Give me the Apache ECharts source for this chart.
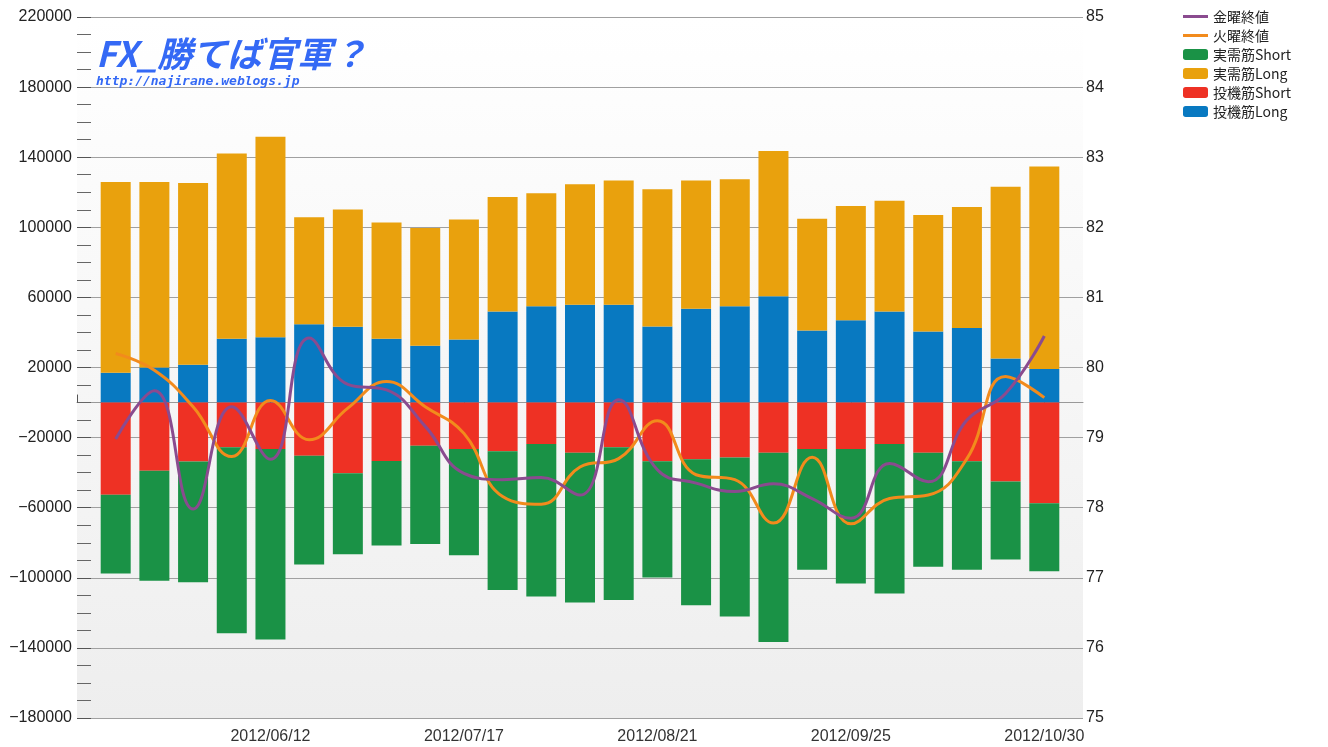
<!DOCTYPE html>
<html>
<head>
<meta charset="utf-8">
<script src="https://cdn.jsdelivr.net/npm/echarts@6/dist/echarts.min.js"></script>
<style>
html,body{margin:0;padding:0;background:#fff;}
#chart{width:1328px;height:747px;}
</style>
</head>
<body>
<div id="chart"></div>
<script>
// Weekly dates (Tuesdays)
const dates = ['2012/05/15','2012/05/22','2012/05/29','2012/06/05','2012/06/12','2012/06/19','2012/06/26','2012/07/03','2012/07/10','2012/07/17','2012/07/24','2012/07/31','2012/08/07','2012/08/14','2012/08/21','2012/08/28','2012/09/04','2012/09/11','2012/09/18','2012/09/25','2012/10/02','2012/10/09','2012/10/16','2012/10/23','2012/10/30'];
// axis padding weeks (one empty week at each end of the time axis)
const padStart = '2012/05/08';
const padEnd = '2012/11/06';
// 投機筋Long
const specLong = [17000,20000,21500,36400,37300,44700,43200,36400,32400,36000,52000,55000,55800,55800,43400,53500,55000,60700,41100,46900,52000,40600,42600,25100,19200];
// 実需筋Long
const realLong = [108900,105900,103800,105700,114300,61000,66900,66300,67200,68400,65300,64400,68800,70900,78300,73200,72400,82900,63800,65300,63200,66400,69000,98100,115500];
// 投機筋Short
const specShort = [-52600,-38900,-33700,-25500,-26500,-30300,-40400,-33300,-24600,-26500,-27800,-23600,-28600,-25500,-33500,-32400,-31400,-28700,-26500,-26500,-23600,-28700,-33500,-45000,-57500];
// 実需筋Short
const realShort = [-44900,-62800,-68800,-106100,-108700,-62100,-46100,-48200,-56100,-60700,-79100,-87100,-85500,-87200,-66300,-83200,-90700,-107900,-68900,-76700,-85300,-65000,-61900,-44500,-38700];
// 金曜終値
const friClose = [78.98,79.67,77.98,79.44,78.69,80.42,79.76,79.68,79.16,78.49,78.40,78.43,78.18,79.54,78.54,78.35,78.23,78.34,78.13,77.85,78.63,78.37,79.25,79.63,80.45];
// 火曜終値
const tueClose = [80.20,79.96,79.44,78.73,79.53,78.97,79.42,79.80,79.44,79.06,78.16,78.05,78.58,78.70,79.24,78.47,78.40,77.78,78.72,77.77,78.13,78.18,78.70,79.87,79.57];
// axis ranges
const leftAxis = {min:-180000, max:220000, interval:40000};
const rightAxis = {min:75, max:85, interval:1};
const labelEvery = 5;

const categories = [padStart].concat(dates, [padEnd]);
const pair = arr => arr.map((v,i)=>[dates[i], v]);

const FRI_COLOR = '#8a4b8f';
const TUE_COLOR = '#f28b1c';
// thin horizontal line icon inside a 25x11 box (degenerate corner points keep the box size)
const lineIcon = 'path://M0,0L0.01,0L0,0.01ZM0,4H25V7H0ZM25,11L24.99,11L25,10.99Z';

const chart = echarts.init(document.getElementById('chart'), null, {renderer:'canvas'});
const axisFont = 'Liberation Sans, Arial, sans-serif';
const barSeries = (name, data, color) => ({
  name, type:'bar', stack:'total', data: pair(data), barWidth:30,
  itemStyle:{color}, yAxisIndex:0
});
const option = {
  backgroundColor:'#ffffff',
  animation:false,
  title:{
    text:'FX_勝てば官軍？',
    subtext:'http://najirane.weblogs.jp',
    left:91, top:31, itemGap:4,
    textStyle:{fontFamily:'Noto Sans CJK JP', fontWeight:'bold', fontStyle:'italic', fontSize:35, color:'#3469f5'},
    subtextStyle:{fontFamily:'DejaVu Sans Mono', fontWeight:'bold', fontStyle:'italic', fontSize:13, color:'#3469f5'}
  },
  legend:{
    orient:'vertical', left:1183, top:9, padding:0,
    itemWidth:25, itemHeight:11, itemGap:4,
    textStyle:{fontFamily:'Noto Sans CJK JP', fontSize:14, color:'#222', lineHeight:15},
    data:[
      {name:'金曜終値', icon:lineIcon, itemStyle:{color:FRI_COLOR, borderWidth:0}},
      {name:'火曜終値', icon:lineIcon, itemStyle:{color:TUE_COLOR, borderWidth:0}},
      '実需筋Short','実需筋Long','投機筋Short','投機筋Long'
    ]
  },
  grid:{
    left:77, right:245, top:17, bottom:29, show:true, borderWidth:0,
    backgroundColor:new echarts.graphic.LinearGradient(0,0,0,1,[{offset:0,color:'#ffffff'},{offset:1,color:'#eeeeee'}])
  },
  xAxis:{
    type:'category', data:categories, boundaryGap:false,
    axisLine:{show:true, lineStyle:{color:'#999', width:1}},
    axisTick:{show:true, inside:true, length:8, interval:(i)=>i%labelEvery===0, lineStyle:{color:'#555'}},
    axisLabel:{interval:(i)=>i>0 && i%labelEvery===0, fontFamily:axisFont, fontSize:16, color:'#333', margin:11},
    splitLine:{show:false}
  },
  yAxis:[{
    type:'value', min:leftAxis.min, max:leftAxis.max, interval:leftAxis.interval,
    axisLine:{show:false},
    axisTick:{show:true, inside:true, length:14, lineStyle:{color:'#555'}},
    minorTick:{show:true, splitNumber:4, length:14, lineStyle:{color:'#666'}},
    axisLabel:{fontFamily:axisFont, fontSize:16, color:'#222', margin:5, formatter:v=>String(v).replace('-','\u2212')},
    splitLine:{show:true, lineStyle:{color:'#a0a0a0', width:1}}
  },{
    type:'value', position:'right', min:rightAxis.min, max:rightAxis.max, interval:rightAxis.interval,
    axisLine:{show:false}, axisTick:{show:false},
    axisLabel:{fontFamily:axisFont, fontSize:16, color:'#222', margin:3},
    splitLine:{show:false}
  }],
  series:[
    barSeries('投機筋Long', specLong, '#0879c1'),
    barSeries('投機筋Short', specShort, '#ee3124'),
    barSeries('実需筋Long', realLong, '#e9a10d'),
    barSeries('実需筋Short', realShort, '#1a9246'),
    {name:'金曜終値', type:'line', yAxisIndex:1, data:pair(friClose), smooth:0.45, symbol:'none',
      lineStyle:{color:FRI_COLOR, width:3}, itemStyle:{color:FRI_COLOR}, z:5},
    {name:'火曜終値', type:'line', yAxisIndex:1, data:pair(tueClose), smooth:0.45, symbol:'none',
      lineStyle:{color:TUE_COLOR, width:3}, itemStyle:{color:TUE_COLOR}, z:4}
  ]
};
chart.setOption(option);
</script>
</body>
</html>
